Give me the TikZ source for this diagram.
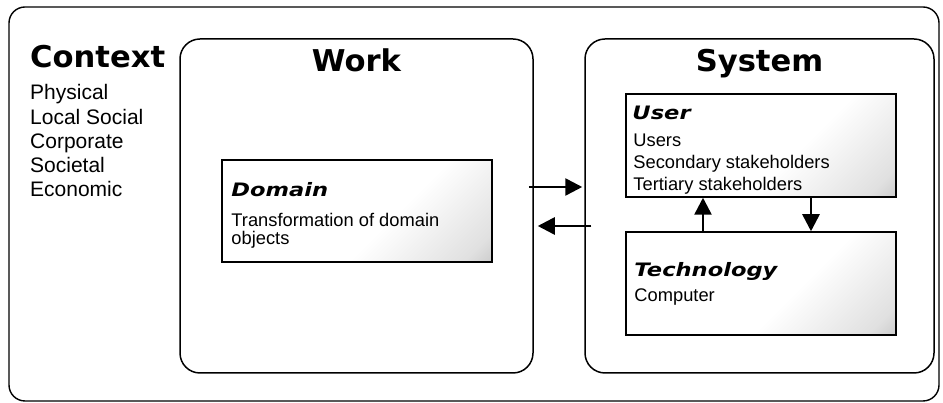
\documentclass[tikz,border=0pt]{standalone}
\usepackage{fontspec}
\setmainfont{Liberation Sans}
\newfontfamily\titlefont[FakeStretch=1.02]{DejaVu Sans}
\newfontfamily\headfont[FakeStretch=1.22]{DejaVu Sans}
\usepackage{tikz}
\usetikzlibrary{arrows.meta,positioning}
\pgfdeclarehorizontalshading{boxfade}{100bp}{color(0bp)=(white); color(58bp)=(white); color(80bp)=(black!12); color(100bp)=(black!40)}
\tikzset{
  framebox/.style={draw, line width=1.4pt, rounded corners=16pt, inner sep=0pt},
  areabox/.style={draw, line width=1.5pt, rounded corners=20pt, inner sep=0pt},
  partbox/.style={draw, line width=1.5pt, shading=boxfade, shading angle=-45, inner sep=0pt,
    minimum width=270pt, minimum height=103pt},
  boxtitle/.style={font=\titlefont\bfseries\fontsize{30}{36}\selectfont, inner sep=0pt},
  heading/.style={font=\headfont\bfseries\itshape\fontsize{18.5}{22}\selectfont, anchor=base west, inner sep=0pt},
  bodytext/.style={font=\fontsize{18.3}{22}\selectfont, anchor=base west, inner sep=0pt},
  ctxitem/.style={font=\fontsize{21}{24}\selectfont, anchor=base west, inner sep=0pt},
  flow/.style={-{Triangle[length=17pt,width=17pt]}, line width=2.6pt}
}
\begin{document}
\begin{tikzpicture}[x=1pt, y=1pt]
\useasboundingbox (0,0) rectangle (943,403);

\node[framebox, minimum width=930pt, minimum height=394pt] (ctx) at (474,199) {};
\node[areabox, minimum width=353pt, minimum height=334pt] (work) at (356.5,197) {};
\node[areabox, minimum width=349pt, minimum height=334pt] (sys) at (759.5,197) {};

\node[partbox, minimum height=102pt] (dom) at (357,192) {};
\node[partbox] (user) at (761,257.5) {};
\node[partbox] (tech) at (761,119.5) {};

% titles
\node[boxtitle, anchor=base west] (ctxtitle) at (30,335) {Context};
\node[boxtitle, anchor=base] (worktitle) at ([yshift=-33]work.north) {Work};
\node[boxtitle, anchor=base] (systitle) at ([yshift=-33]sys.north) {System};

\foreach \t [count=\i] in {Physical, Local Social, Corporate, Societal, Economic}
  \node[ctxitem] (ctx-\i) at (30,{327.2-24.2*\i}) {\t};

\node[heading] (domhead) at ([shift={(10,-37)}]dom.north west) {Domain};
\foreach \t [count=\i] in {Transformation of domain, objects}
  \node[bodytext] (dom-\i) at ([shift={(10,-49-18*\i)}]dom.north west) {\t};

\node[heading] (userhead) at ([shift={(7,-26)}]user.north west) {User};
\foreach \t [count=\i] in {Users, Secondary stakeholders, Tertiary stakeholders}
  \node[bodytext] (user-\i) at ([shift={(8,-31-22*\i)}]user.north west) {\t};

\node[heading] (techhead) at ([shift={(9,-45)}]tech.north west) {Technology};
\node[bodytext] (tech-1) at ([shift={(9,-70)}]tech.north west) {Computer};

\draw[flow] ([shift={(-5,19)}]work.east) -- ([shift={(-2,19)}]sys.west);
\draw[flow] ([shift={(7,-20)}]sys.west) -- ([shift={(4,-20)}]work.east);
\draw[flow] ([xshift=-58]tech.north) -- ([xshift=-58]user.south);
\draw[flow] ([xshift=50]user.south) -- ([xshift=50]tech.north);
\end{tikzpicture}
\end{document}
